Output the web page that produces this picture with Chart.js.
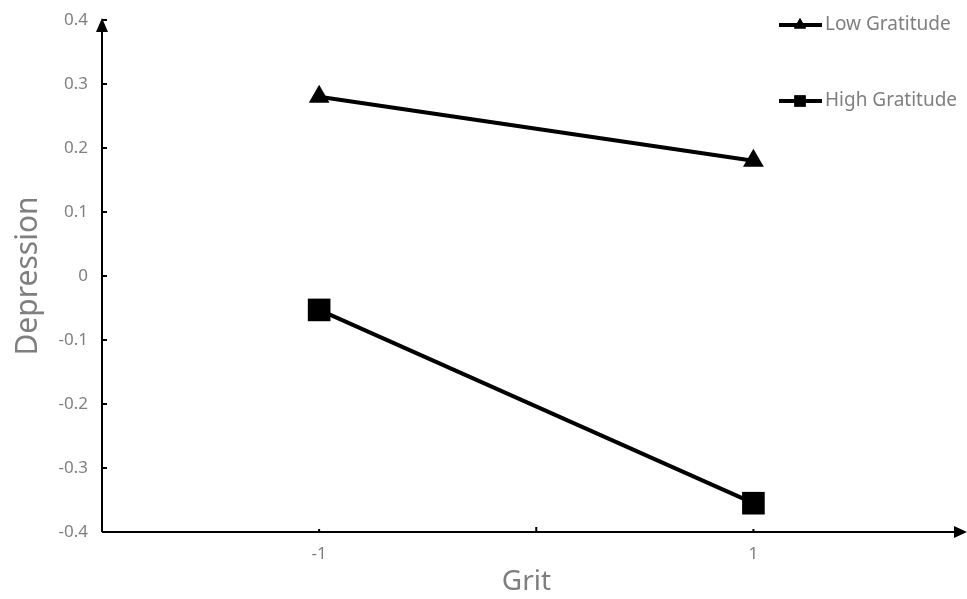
<!DOCTYPE html>
<html>
<head>
<meta charset="utf-8">
<script src="https://cdn.jsdelivr.net/npm/chart.js@4"></script>
<style>
  html, body { margin: 0; padding: 0; background: #fff; overflow: hidden; }
  #wrap { width: 967px; height: 599px; position: relative; }
</style>
</head>
<body>
<div id="wrap"><canvas id="graphContainer"></canvas></div>
<script>
const gritLevels = [-1, 1];
const lowGratitude = [0.28, 0.18];
const highGratitude = [-0.053, -0.355];
const seriesNames = ["Low Gratitude", "High Gratitude"];
const yTicks = [-0.4, -0.3, -0.2, -0.1, 0, 0.1, 0.2, 0.3, 0.4];

const gray = "#7f7f7f";
const font = "'Noto Sans', 'DejaVu Sans', sans-serif";

// axes with arrows, inside ticks and a hand-placed legend like the Excel original
const excelAxes = {
  id: "excelAxes",
  afterDraw(chart) {
    const ctx = chart.ctx;
    const x = chart.scales.x;
    const y = chart.scales.y;
    const left = x.left, right = chart.width - 1;
    const top = y.top, bottom = y.bottom;
    ctx.save();
    ctx.strokeStyle = "#000";
    ctx.fillStyle = "#000";
    ctx.lineWidth = 2;

    // y axis
    ctx.beginPath();
    ctx.moveTo(left, bottom);
    ctx.lineTo(left, top + 6);
    ctx.stroke();
    ctx.beginPath();
    ctx.moveTo(left, top - 2);
    ctx.lineTo(left - 6, top + 12);
    ctx.lineTo(left + 6, top + 12);
    ctx.closePath();
    ctx.fill();
    for (const v of yTicks) {
      const py = y.getPixelForValue(v);
      ctx.beginPath();
      ctx.moveTo(left, py);
      ctx.lineTo(left + 5, py);
      ctx.stroke();
    }

    // x axis
    ctx.beginPath();
    ctx.moveTo(left, bottom);
    ctx.lineTo(right - 8, bottom);
    ctx.stroke();
    ctx.beginPath();
    ctx.moveTo(right + 1, bottom);
    ctx.lineTo(right - 12, bottom - 6);
    ctx.lineTo(right - 12, bottom + 6);
    ctx.closePath();
    ctx.fill();
    const mid = x.getPixelForValue(0);
    ctx.beginPath();
    ctx.moveTo(mid, bottom);
    ctx.lineTo(mid, bottom - 5);
    ctx.stroke();
    for (const g of gritLevels) {
      const px = x.getPixelForValue(g);
      ctx.beginPath();
      ctx.moveTo(px, bottom);
      ctx.lineTo(px, bottom - 3);
      ctx.stroke();
    }

    // legend
    const rows = [25, 101];
    chart.data.datasets.forEach((ds, i) => {
      const ly = rows[i];
      ctx.lineWidth = 4;
      ctx.beginPath();
      ctx.moveTo(779, ly);
      ctx.lineTo(822, ly);
      ctx.stroke();
      Chart.helpers.drawPoint(ctx, {
        pointStyle: ds.pointStyle,
        radius: i === 0 ? 7 : 8,
        borderWidth: 0,
        rotation: 0
      }, 800, ly);
      ctx.fill();
      ctx.fillStyle = gray;
      ctx.font = "19px " + font;
      ctx.textBaseline = "middle";
      ctx.fillText(ds.label, 825, ly);
      ctx.fillStyle = "#000";
    });
    ctx.restore();
  }
};

new Chart(document.getElementById("graphContainer"), {
  type: "line",
  data: {
    datasets: [
      {
        label: seriesNames[0],
        data: gritLevels.map((g, i) => ({ x: g, y: lowGratitude[i] })),
        borderColor: "#000",
        backgroundColor: "#000",
        borderWidth: 4,
        pointStyle: "triangle",
        pointRadius: 12,
        pointBorderWidth: 0,
        tension: 0
      },
      {
        label: seriesNames[1],
        data: gritLevels.map((g, i) => ({ x: g, y: highGratitude[i] })),
        borderColor: "#000",
        backgroundColor: "#000",
        borderWidth: 4,
        pointStyle: "rect",
        pointRadius: 16,
        pointBorderWidth: 0,
        tension: 0
      }
    ]
  },
  options: {
    responsive: true,
    maintainAspectRatio: false,
    animation: false,
    layout: { padding: { top: 20, right: 0, left: 0, bottom: 0 } },
    plugins: {
      legend: { display: false },
      tooltip: { enabled: false }
    },
    scales: {
      x: {
        type: "linear",
        min: -2,
        max: 1.91,
        grid: { display: false },
        border: { display: false },
        afterFit(scale) { scale.height = 67; },
        ticks: {
          stepSize: 1,
          autoSkip: false,
          padding: 4,
          color: gray,
          font: { family: font, size: 17 },
          callback: (v) => (gritLevels.includes(v) ? String(v) : "")
        },
        title: {
          display: true,
          text: "Grit",
          color: gray,
          padding: { top: 0, bottom: 0 },
          font: { family: font, size: 28 }
        }
      },
      y: {
        min: -0.4,
        max: 0.4,
        grid: { display: false },
        border: { display: false },
        afterFit(scale) { scale.width = 102; },
        afterBuildTicks(scale) { scale.ticks = yTicks.map((v) => ({ value: v })); },
        ticks: {
          padding: 6,
          color: gray,
          font: { family: font, size: 17 },
          callback: (v) => String(Math.round(v * 10) / 10)
        },
        title: {
          display: true,
          text: "Depression",
          color: gray,
          padding: { top: 10, bottom: 0 },
          font: { family: font, size: 30 }
        }
      }
    }
  },
  plugins: [excelAxes]
});
</script>
</body>
</html>
